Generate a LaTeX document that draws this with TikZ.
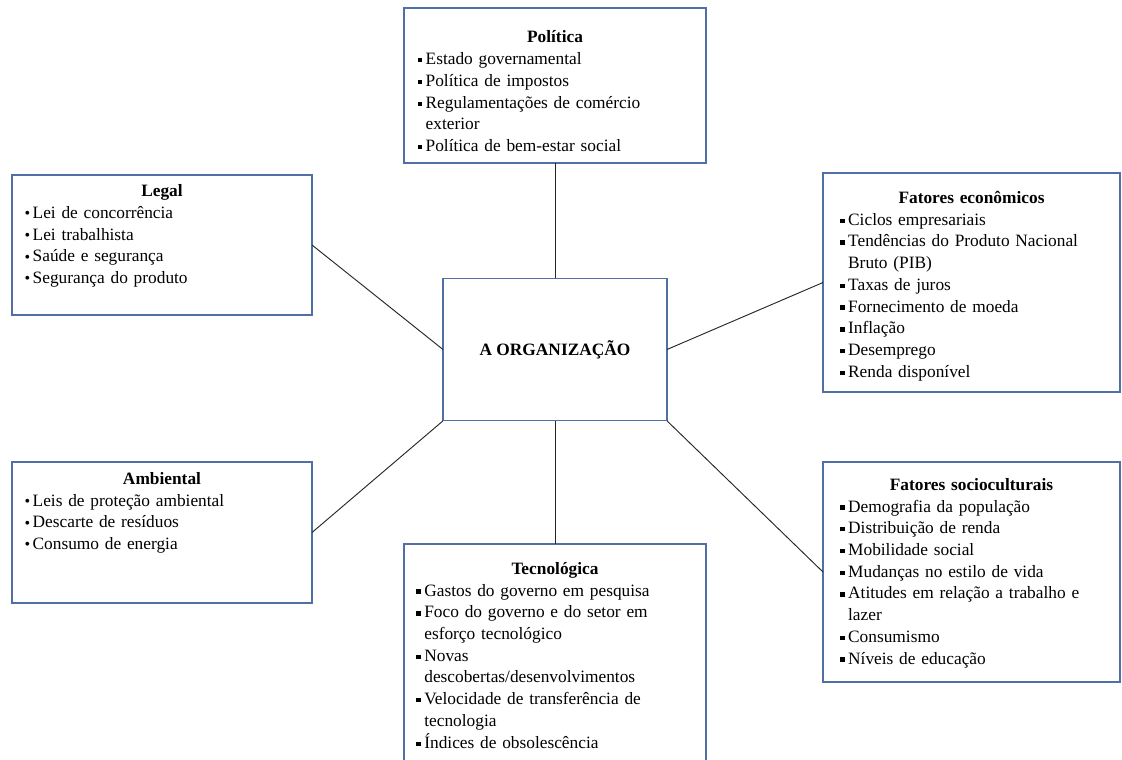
\documentclass[tikz,border=0pt]{standalone}
\usepackage{fontspec}
\setmainfont{Liberation Serif}
\usetikzlibrary{positioning,fit}

\definecolor{boxline}{HTML}{4F6FA5}
\newcommand{\sqb}{\rule[1.7pt]{3.3pt}{3.3pt}}
\newcommand{\dotb}{\raisebox{-0.2pt}{\large\textbullet}}
\newcommand{\sqitem}{\par\hangindent=6pt\hangafter=1\noindent\makebox[6pt][l]{\sqb}}
\newcommand{\dotitem}{\par\hangindent=6pt\hangafter=1\noindent\makebox[6pt][l]{\dotb}}
\newcommand{\wrap}{\hfil\break}

\begin{document}
\begin{tikzpicture}[
    x=0.75pt, y=-0.75pt,
    box/.style={draw=boxline, line width=0.9pt, inner sep=0pt, outer sep=0pt, fill=white},
    list/.style={inner sep=0pt, anchor=north, align=left,
      font=\fontsize{13}{16.3}\selectfont},
    link/.style={draw=black!85, line width=0.7pt},
  ]
    \clip (0,0) rectangle (1122,760);

    % frames
    \node[box, fit={(404,8) (706,163)}] (pol) {};
    \node[box, fit={(12,175) (312,315)}] (legal) {};
    \node[box, fit={(823,173) (1120,392)}] (econ) {};
    \node[box, fit={(823,462) (1120,682)}] (socio) {};
    \node[box, fit={(404,544) (706,790)}] (tec) {};
    \node[box, fit={(12,462) (312,603)}] (amb) {};
    \node[box, minimum width=168pt, minimum height=107pt,
      font=\fontsize{13}{15}\selectfont\bfseries] (org) at (555,349.5) {A ORGANIZAÇÃO};

    % contents
    \node[list, text width=206pt, below=17pt of pol.north] (poltext) {%
      {\centering\textbf{Política}\par}\raggedright
      \sqitem Estado governamental
      \sqitem Política de impostos
      \sqitem Regulamentações de comércio\wrap exterior
      \sqitem Política de bem-estar social};
    \node[list, text width=206pt, below=7pt of legal.north] (legaltext) {%
      {\centering\textbf{Legal}\par}\raggedright
      \dotitem Lei de concorrência
      \dotitem Lei trabalhista
      \dotitem Saúde e segurança
      \dotitem Segurança do produto};
    \node[list, text width=197pt, below=13.5pt of econ.north] (econtext) {%
      {\centering\textbf{Fatores econômicos}\par}\raggedright
      \sqitem Ciclos empresariais
      \sqitem Tendências do Produto Nacional\wrap Bruto (PIB)
      \sqitem Taxas de juros
      \sqitem Fornecimento de moeda
      \sqitem Inflação
      \sqitem Desemprego
      \sqitem Renda disponível};
    \node[list, text width=197pt, below=12pt of socio.north] (sociotext) {%
      {\centering\textbf{Fatores socioculturais}\par}\raggedright
      \sqitem Demografia da população
      \sqitem Distribuição de renda
      \sqitem Mobilidade social
      \sqitem Mudanças no estilo de vida
      \sqitem Atitudes em relação a trabalho e\wrap lazer
      \sqitem Consumismo
      \sqitem Níveis de educação};
    \node[list, text width=208pt, below=13.5pt of tec.north] (tectext) {%
      {\centering\textbf{Tecnológica}\par}\raggedright
      \sqitem Gastos do governo em pesquisa
      \sqitem Foco do governo e do setor em\wrap esforço tecnológico
      \sqitem Novas\wrap descobertas/desenvolvimentos
      \sqitem Velocidade de transferência de\wrap tecnologia
      \sqitem Índices de obsolescência};
    \node[list, text width=206pt, below=7.5pt of amb.north] (ambtext) {%
      {\centering\textbf{Ambiental}\par}\raggedright
      \dotitem Leis de proteção ambiental
      \dotitem Descarte de resíduos
      \dotitem Consumo de energia};

    % connectors
    \draw[link] (pol) -- (org);
    \draw[link] (legal.east) -- (org.west);
    \draw[link] (org.east) -- (econ.west);
    \draw[link] (amb.east) -- (org.south west);
    \draw[link] (org.south east) -- (socio.west);
    \draw[link] (org) -- (tec);
\end{tikzpicture}
\end{document}
